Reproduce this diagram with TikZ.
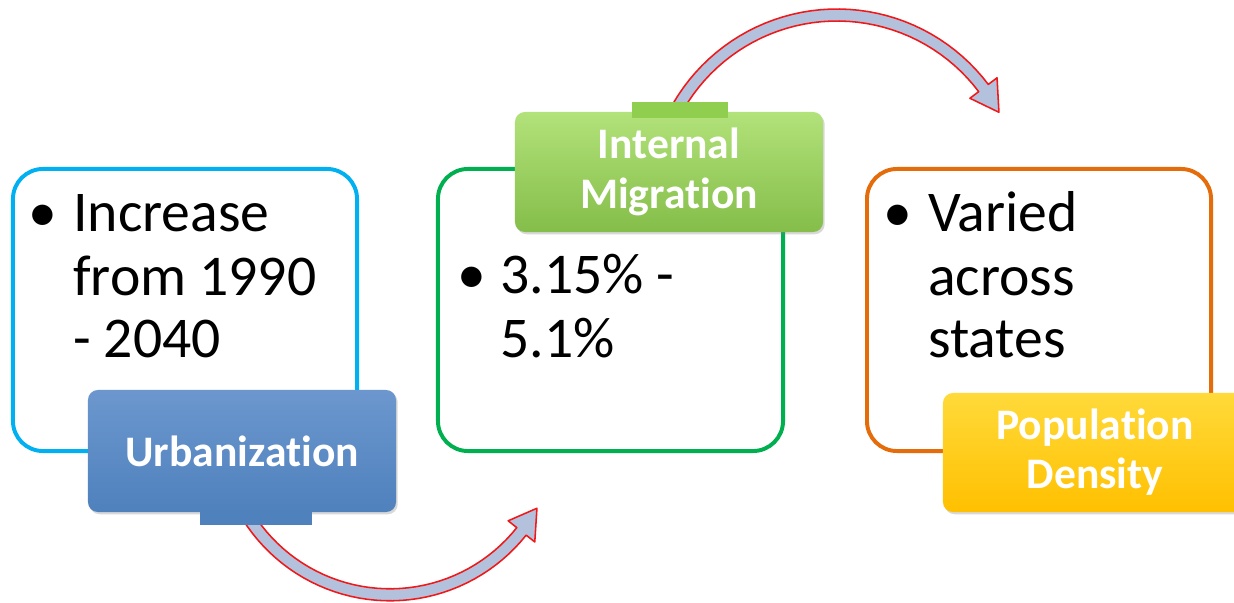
\documentclass[tikz,border=0pt]{standalone}
\usepackage{fontspec}
\setmainfont{Carlito}[Ligatures={NoCommon,NoContextual,NoRare}]
\usetikzlibrary{shadows}
\definecolor{urbline}{HTML}{00B0F0}
\definecolor{migline}{HTML}{00B050}
\definecolor{popline}{HTML}{E46C0A}
\definecolor{urbfill}{HTML}{4F81BD}
\definecolor{urbtop}{HTML}{6C97CE}
\definecolor{migfill}{HTML}{90CE50}
\definecolor{migtop}{HTML}{B2E27A}
\definecolor{popfill}{HTML}{FFC000}
\definecolor{poptop}{HTML}{FFDA3A}
\definecolor{arrowfill}{HTML}{B4C1DC}
\definecolor{arrowred}{HTML}{F01818}
\tikzset{
 outerbox/.style={draw, line width=2.8pt, rounded corners=0.75cm, minimum width=8.6cm, minimum height=7.05cm, inner sep=0pt},
 tagbox/.style={rounded corners=0.25cm, inner sep=0pt, text=white, align=center,
  font=\fontsize{31}{35}\selectfont\bfseries,
  drop shadow={shadow xshift=1.2pt, shadow yshift=-1.6pt, opacity=0.3}},
 bodytext/.style={inner sep=0pt, anchor=base west, font=\fontsize{41}{44}\selectfont},
 dot/.style={inner sep=0pt, anchor=base, font=\fontsize{41}{44}\selectfont},
 arrowband/.style={draw=arrowred, line width=1.1pt, fill=arrowfill, line join=round}
}
\begin{document}
\begin{tikzpicture}[x=0.025cm,y=-0.025cm]
 \useasboundingbox (0,0) rectangle (1234,603);
 \clip (0,0) rectangle (1234,603);
 \fill[white] (0,0) rectangle (1234,603);
 % curved arrows
 \begin{scope}[shift={(390,426.8)}]
  \draw[arrowband] plot[domain=148:38.5,samples=40] (\x:174) -- (38.5:185) -- (29:168) -- (38.5:151)
   -- plot[domain=38.5:148,samples=40] (\x:162) -- cycle;
 \end{scope}
 \begin{scope}[shift={(837,198.4)}]
  \draw[arrowband] plot[domain=210:323,samples=40] (\x:189.4) -- (323:200.4) -- (332:183.4) -- (323:166.4)
   -- plot[domain=323:210,samples=40] (\x:177.4) -- cycle;
 \end{scope}
 % outlined boxes
 \node[outerbox, draw=urbline] (urbbox) at (185,310) {};
 \node[outerbox, draw=migline, minimum width=8.625cm] (migbox) at (610.5,310) {};
 \node[outerbox, draw=popline] (popbox) at (1039,310) {};
 % bullet texts
 \node[dot] (urbdot) at (43,232) {\textbullet};
 \node[bodytext] (urbA) at (73,232) {Increase};
 \node[bodytext] (urbB) at (73,295) {from 1990};
 \node[bodytext] (urbC) at (73,357) {- 2040};
 \node[dot] (migdot) at (472,293) {\textbullet};
 \node[bodytext] (migA) at (500,293) {3.15\% -};
 \node[bodytext] (migB) at (500,357) {5.1\%};
 \node[dot] (popdot) at (898,232) {\textbullet};
 \node[bodytext] (popA) at (928,232) {Varied};
 \node[bodytext] (popB) at (928,295) {across};
 \node[bodytext] (popC) at (928,357) {states};
 % label boxes
 \node[tagbox, top color=urbtop, middle color=urbfill, bottom color=urbfill, minimum width=7.7cm, minimum height=3.05cm] (urbtag) at (242,451) {Urbanization};
 \node[tagbox, top color=migtop, middle color=migfill, bottom color=migfill!92!black, minimum width=7.7cm, minimum height=3cm] (migtag) at (669,172) {Internal\\Migration};
 \node[tagbox, top color=poptop, middle color=popfill, bottom color=popfill, minimum width=7.6cm, minimum height=2.975cm] (poptag) at (1095,452.5) {Population\\Density};
 % flat patches
 \fill[urbfill] (200,512) rectangle (312,525);
 \fill[migfill] (632,102) rectangle (728,118);
\end{tikzpicture}
\end{document}
